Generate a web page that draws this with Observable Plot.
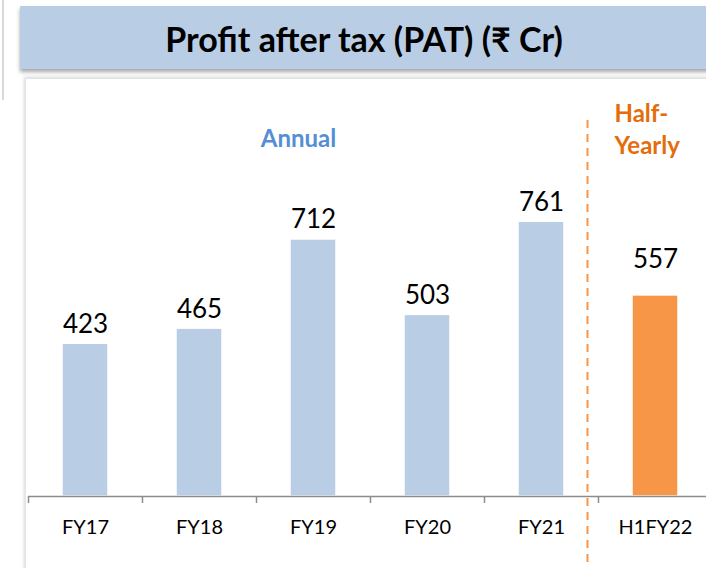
<!DOCTYPE html>
<html>
<head>
<meta charset="utf-8">
<script src="https://cdn.jsdelivr.net/npm/d3@7"></script>
<script src="https://cdn.jsdelivr.net/npm/@observablehq/plot@0.6"></script>
<style>
  html, body { margin: 0; padding: 0; background: #fff; overflow: hidden; }
  #wrap { position: relative; width: 706px; height: 568px; overflow: hidden; font-family: Lato, "Noto Sans", "DejaVu Sans", sans-serif; }
  #leftline { position: absolute; left: 2px; top: 0; width: 2px; height: 100px; background: #d9d9d9; }
  #panel { position: absolute; left: 25px; top: 78px; width: 700px; height: 520px; background: #fff; border-left: 1px solid #e3e3e3; border-top: 1px solid #e3e3e3; box-shadow: -1px -1px 3px rgba(0,0,0,0.15); }
  #title { position: absolute; left: 20px; top: 6px; width: 700px; height: 63px; background: #b9cde5; box-shadow: 0 3px 4px rgba(0,0,0,0.35); }
  #title span { position: absolute; left: 0; width: 688px; top: 1px; line-height: 63px; text-align: center; font-weight: bold; font-size: 34px; color: #000; font-family: Lato, "Noto Sans", "DejaVu Sans", sans-serif; }
  #chart { position: absolute; left: 0; top: 82px; width: 712px; }
  #chart svg { overflow: visible; max-width: none !important; }
</style>
</head>
<body>
<div id="wrap">
  <div id="leftline"></div>
  <div id="panel"></div>
  <div id="title"><span>Profit after tax (PAT) (₹ Cr)</span></div>
  <div id="chart"></div>
</div>
<script>
const categories = ["FY17", "FY18", "FY19", "FY20", "FY21", "H1FY22"];
const values = [423, 465, 712, 503, 761, 557];
const periods = ["Annual", "Annual", "Annual", "Annual", "Annual", "Half-Yearly"];
const periodColors = ["#b9cde5", "#f79646"];
const annotations = ["Annual", "Half-\nYearly"];

const data = categories.map((c, i) => ({cat: c, value: values[i], period: periods[i]}));
const annualData = data.filter(d => d.period === "Annual");
const halfData = data.filter(d => d.period === "Half-Yearly");

const chart = Plot.plot({
  width: 712,
  height: 486,
  marginLeft: 28,
  marginRight: 0,
  marginTop: 53,
  marginBottom: 72,
  style: {fontFamily: 'Lato, "Noto Sans", "DejaVu Sans", sans-serif', background: "transparent", overflow: "visible", maxWidth: "none"},
  x: {domain: categories, paddingInner: 0.6, paddingOuter: 0.3, label: null},
  y: {domain: [0, 1000], axis: null},
  color: {domain: ["Annual", "Half-Yearly"], range: periodColors},
  marks: [
    Plot.barY(data, {x: "cat", y: "value", fill: "period", stroke: "white", strokeWidth: 1.5,
      style: {filter: "drop-shadow(0px 0px 1.5px rgba(0,0,0,0.35))"}}),
    Plot.text(annualData, {x: "cat", y: "value", text: d => String(d.value), lineAnchor: "bottom", dy: -11, fontSize: 26, fill: "#000"}),
    Plot.text(halfData, {x: "cat", y: "value", text: d => String(d.value), lineAnchor: "bottom", dy: -27, fontSize: 26, fill: "#000"}),
    Plot.ruleY([0], {stroke: "#8c8c8c", strokeWidth: 1.5}),
    Plot.axisX({tickSize: 7, tickFormat: () => "", dx: -57, stroke: "#8c8c8c", strokeWidth: 1.5}),
    Plot.axisX({tickSize: 0, tickPadding: 23, fontSize: 20, fill: "#000"}),
    Plot.ruleX(["H1FY22"], {dx: -68, stroke: "#f79646", strokeWidth: 2, strokeDasharray: "8,6", insetTop: -15, insetBottom: -72}),
    Plot.text([annotations[0]], {x: () => "FY19", frameAnchor: "top", dx: -15, dy: -6, fill: "#558ed5", fontWeight: "bold", fontSize: 24}),
    Plot.text([annotations[1]], {x: () => "H1FY22", frameAnchor: "top", textAnchor: "start", dx: -41, dy: -37, lineHeight: 1.35, fill: "#e46c0a", fontWeight: "bold", fontSize: 24})
  ]
});
document.getElementById("chart").appendChild(chart);
</script>
</body>
</html>
